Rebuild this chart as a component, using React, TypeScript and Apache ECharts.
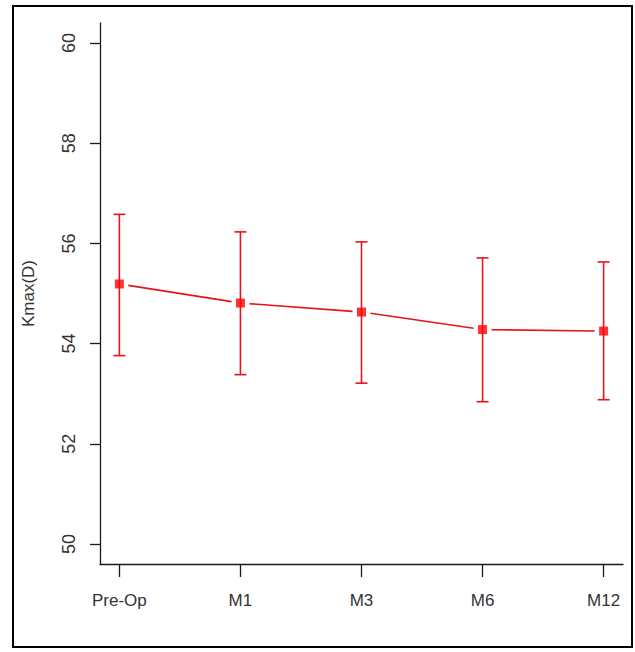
import React, { useEffect, useRef } from "react";
import * as echarts from "echarts";

const categories = ["Pre-Op", "M1", "M3", "M6", "M12"];
const means = [55.19, 54.81, 54.63, 54.28, 54.25];
const upper = [56.58, 56.23, 56.03, 55.71, 55.63];
const lower = [53.76, 53.38, 53.21, 52.84, 52.88];
const yTicks = [50, 52, 54, 56, 58, 60];
const xTicks = [1, 2, 3, 4, 5];
const yAxisName = "Kmax(D)";

const FONT = "'Liberation Sans', Arial, sans-serif";
const AXIS = "#1a1a1a";
const RED = "#ff0000";
const LINE_RED = "#e8141c";
const TEXT = "#333";

export default function App() {
  const ref = useRef<HTMLDivElement>(null);
  useEffect(() => {
    if (!ref.current) return;
    const chart = echarts.init(ref.current, undefined, { renderer: "svg" });
    const errData = categories.map((_, i) => [i + 1, lower[i], upper[i]]);
    const segData = categories.slice(0, -1).map((_, i) => [i + 1, means[i], i + 2, means[i + 1]]);
    const ptData = categories.map((_, i) => [i + 1, means[i]]);
    chart.setOption({
      animation: false,
      backgroundColor: "#ffffff",
      graphic: [
        {
          type: "rect",
          shape: { x: 13, y: 6, width: 619, height: 641 },
          style: { fill: "none", stroke: "#000", lineWidth: 2 },
          silent: true,
        },
      ],
      grid: { left: 100, right: 12, top: 23, bottom: 88, containLabel: false },
      xAxis: {
        type: "value",
        min: 0.84,
        max: 5.16,
        splitLine: { show: false },
        axisLine: { show: true, onZero: false, lineStyle: { color: AXIS, width: 1.3 } },
        axisTick: { show: true, customValues: xTicks, length: 13, lineStyle: { color: AXIS, width: 1.3 } },
        axisLabel: {
          customValues: xTicks,
          formatter: (v: number) => categories[Math.round(v) - 1] ?? "",
          margin: 28,
          fontFamily: FONT,
          fontSize: 17,
          color: TEXT,
        },
      },
      yAxis: {
        type: "value",
        min: 49.6,
        max: 60.4,
        name: yAxisName,
        nameLocation: "middle",
        nameRotate: 90,
        nameGap: 63,
        nameTextStyle: { fontFamily: FONT, fontSize: 17, color: TEXT },
        splitLine: { show: false },
        axisLine: { show: true, onZero: false, lineStyle: { color: AXIS, width: 1.3 } },
        axisTick: { show: true, customValues: yTicks, length: 10, lineStyle: { color: AXIS, width: 1.3 } },
        axisLabel: {
          customValues: yTicks,
          rotate: 90,
          margin: 22,
          fontFamily: FONT,
          fontSize: 18,
          color: TEXT,
        },
      },
      series: [
        {
          type: "custom",
          data: segData,
          clip: false,
          encode: { x: [0, 2], y: [1, 3] },
          renderItem: (params: any, api: any) => {
            const p1 = api.coord([api.value(0), api.value(1)]);
            const p2 = api.coord([api.value(2), api.value(3)]);
            const dx = p2[0] - p1[0];
            const dy = p2[1] - p1[1];
            const len = Math.sqrt(dx * dx + dy * dy);
            const ux = dx / len;
            const uy = dy / len;
            const g = 9;
            return {
              type: "line",
              shape: { x1: p1[0] + ux * g, y1: p1[1] + uy * g, x2: p2[0] - ux * g, y2: p2[1] - uy * g },
              style: { stroke: LINE_RED, lineWidth: 1.6 },
            };
          },
        },
        {
          type: "custom",
          data: errData,
          clip: false,
          encode: { x: 0, y: [1, 2] },
          renderItem: (params: any, api: any) => {
            const x = api.value(0);
            const lo = api.coord([x, api.value(1)]);
            const hi = api.coord([x, api.value(2)]);
            const hw = 6;
            const st = { stroke: LINE_RED, lineWidth: 1.6 };
            return {
              type: "group",
              children: [
                { type: "line", shape: { x1: lo[0], y1: lo[1], x2: hi[0], y2: hi[1] }, style: st },
                { type: "line", shape: { x1: hi[0] - hw, y1: hi[1], x2: hi[0] + hw, y2: hi[1] }, style: st },
                { type: "line", shape: { x1: lo[0] - hw, y1: lo[1], x2: lo[0] + hw, y2: lo[1] }, style: st },
              ],
            };
          },
        },
        {
          type: "scatter",
          data: ptData,
          symbol: "rect",
          symbolSize: 9,
          itemStyle: { color: RED },
          z: 5,
        },
      ],
    });
    return () => chart.dispose();
  }, []);
  return (
    <div
      ref={ref}
      style={{ position: "absolute", left: 0, top: 0, width: 635, height: 652 }}
    />
  );
}
